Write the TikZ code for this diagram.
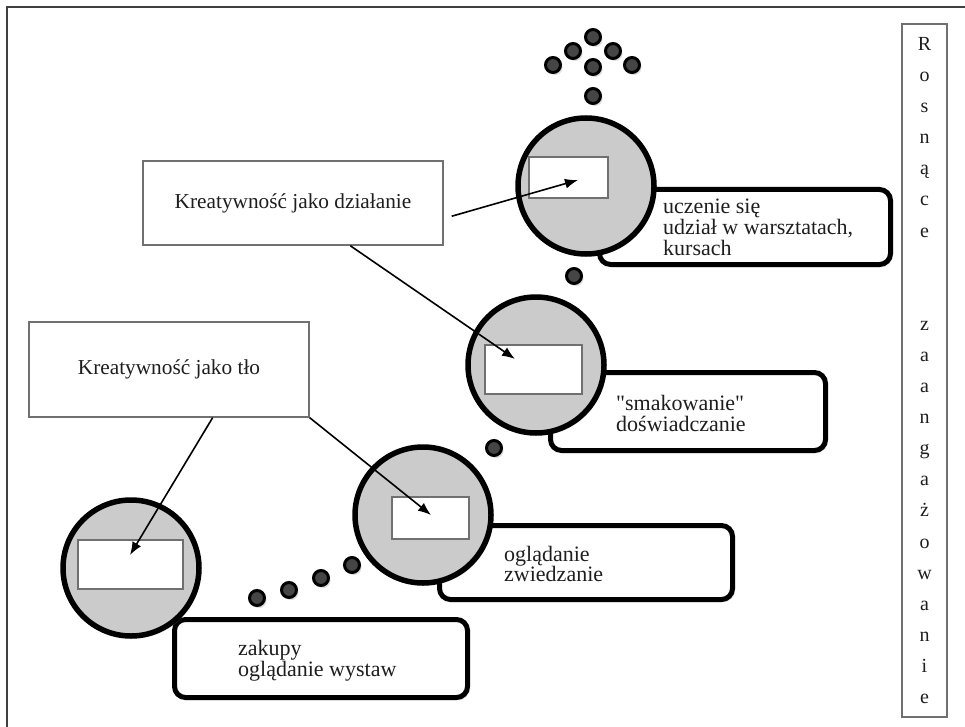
\documentclass[tikz,border=0pt]{standalone}
\usepackage{fontspec}
\setmainfont{Liberation Serif}
% same face without the TeX input mapping, for straight quotation marks
\newfontfamily\rawserif{Liberation Serif}
\usetikzlibrary{shadows,arrows.meta,calc}

\definecolor{discgrey}{HTML}{CBCBCB}
\definecolor{beadgrey}{HTML}{454545}
\definecolor{slotgrey}{HTML}{707070}
\definecolor{ink}{HTML}{1E1E1E}
\definecolor{framegrey}{HTML}{404040}

\begin{document}
\begin{tikzpicture}[x=1pt,y=-1pt,
  softshadow/.style={drop shadow={opacity=0.28,shadow xshift=2pt,shadow yshift=-2.5pt}},
  stagebox/.style={rectangle, draw=black, line width=5pt, fill=white, rounded corners=11pt, inner sep=0pt, softshadow},
  disc/.style={circle, draw=black, line width=5.5pt, fill=discgrey, minimum size=136pt, inner sep=0pt, softshadow},
  slot/.style={rectangle, draw=slotgrey, line width=1.2pt, fill=white, inner sep=0pt},
  bead/.style={circle, draw=black, line width=3pt, fill=beadgrey, minimum size=15pt, inner sep=0pt, softshadow},
  note/.style={rectangle, draw=slotgrey, line width=1.4pt, fill=white, inner sep=0pt, text=ink, font=\fontsize{21.3}{24}\selectfont},
  stagetext/.style={anchor=west, inner sep=0pt, align=left, text=ink, font=\fontsize{22}{20.8}\selectfont},
  pointer/.style={draw=black, line width=1.6pt, -{Latex[length=13pt,width=10pt]}}
]
\useasboundingbox (0,0) rectangle (965,727);

% outer frame
\draw[line width=1.8pt, draw=framegrey] (7,727) -- (7,7) -- (965,7);

% stage boxes (behind the discs)
\node[stagebox, minimum width=293pt, minimum height=78pt] (r1) at (321,658.5) {};
\node[stagebox, minimum width=293pt, minimum height=74pt] (r2) at (586,562.5) {};
\node[stagebox, minimum width=275pt, minimum height=78pt] (r3) at (688,411.5) {};
\node[stagebox, minimum width=291pt, minimum height=75pt] (r4) at (745,227) {};

\node[stagetext] (s1) at ([xshift=66pt,yshift=-2pt]r1.west) {zakupy\\oglądanie wystaw};
\node[stagetext] (s2) at ([xshift=67pt,yshift=-1.5pt]r2.west) {oglądanie\\zwiedzanie};
\node[stagetext] (s3) at ([xshift=68pt,yshift=-2pt]r3.west) {{\rawserif"}smakowanie{\rawserif"}\\doświadczanie};
\node[stagetext] (s4) at ([xshift=66pt,yshift=-0.5pt]r4.west) {uczenie się\\udział w warsztatach,\\kursach};

% discs with their slots
\node[disc] (c1) at (131,568) {};
\node[disc] (c2) at (423,515) {};
\node[disc] (c3) at (536,365) {};
\node[disc] (c4) at (586,186) {};

\node[slot, minimum width=105pt, minimum height=49pt] (i1) at (130.5,564.5) {};
\node[slot, minimum width=77pt, minimum height=42pt] (i2) at (430.5,518) {};
\node[slot, minimum width=97pt, minimum height=49pt] (i3) at (533.5,369.5) {};
\node[slot, minimum width=79pt, minimum height=41pt] (i4) at (568.5,177.5) {};

% beads between the stages
\node[bead] (b1) at (257,598) {};
\node[bead] (b2) at (289,590) {};
\node[bead] (b3) at (321,578) {};
\node[bead] (b4) at (352,565) {};
\node[bead] (b5) at (494,448) {};
\node[bead] (b6) at (574,276) {};
\node[bead] (b7) at (593,96) {};
\node[bead] (b8) at (593,67) {};
\node[bead] (b9) at (553,65) {};
\node[bead] (b10) at (573,51) {};
\node[bead] (b11) at (593,37) {};
\node[bead] (b12) at (613,51) {};
\node[bead] (b13) at (632,65) {};

% labels
\node[note, minimum width=300pt, minimum height=84pt] (dz) at (293,203) {Kreatywność jako działanie};
\node[note, minimum width=280pt, minimum height=95pt] (tlo) at (169,369.5) {Kreatywność jako tło};

% vertical scale
\node[note, minimum width=45pt, minimum height=693pt, align=center,
      font=\fontsize{20}{31.1}\selectfont] (scale) at (924.5,370.5)
  {R\\o\\s\\n\\ą\\c\\e\\[62.2pt]z\\a\\a\\n\\g\\a\\ż\\o\\w\\a\\n\\i\\e};

% pointers into the slots
\coordinate (tip1) at (130,555);
\coordinate (tip2) at (431,515);
\coordinate (tip3) at (515,359);
\coordinate (tip4) at (578,180);

\draw[pointer] ($(tlo.south west)!0.655!(tlo.south east)$) -- (tip1);
\draw[pointer] (tlo.south east) -- (tip2);
\draw[pointer] ($(dz.south west)!0.69!(dz.south east)$) -- (tip3);
\draw[pointer] ($(dz.north east)!0.655!(dz.south east)+(8,0)$) -- (tip4);
\end{tikzpicture}
\end{document}
